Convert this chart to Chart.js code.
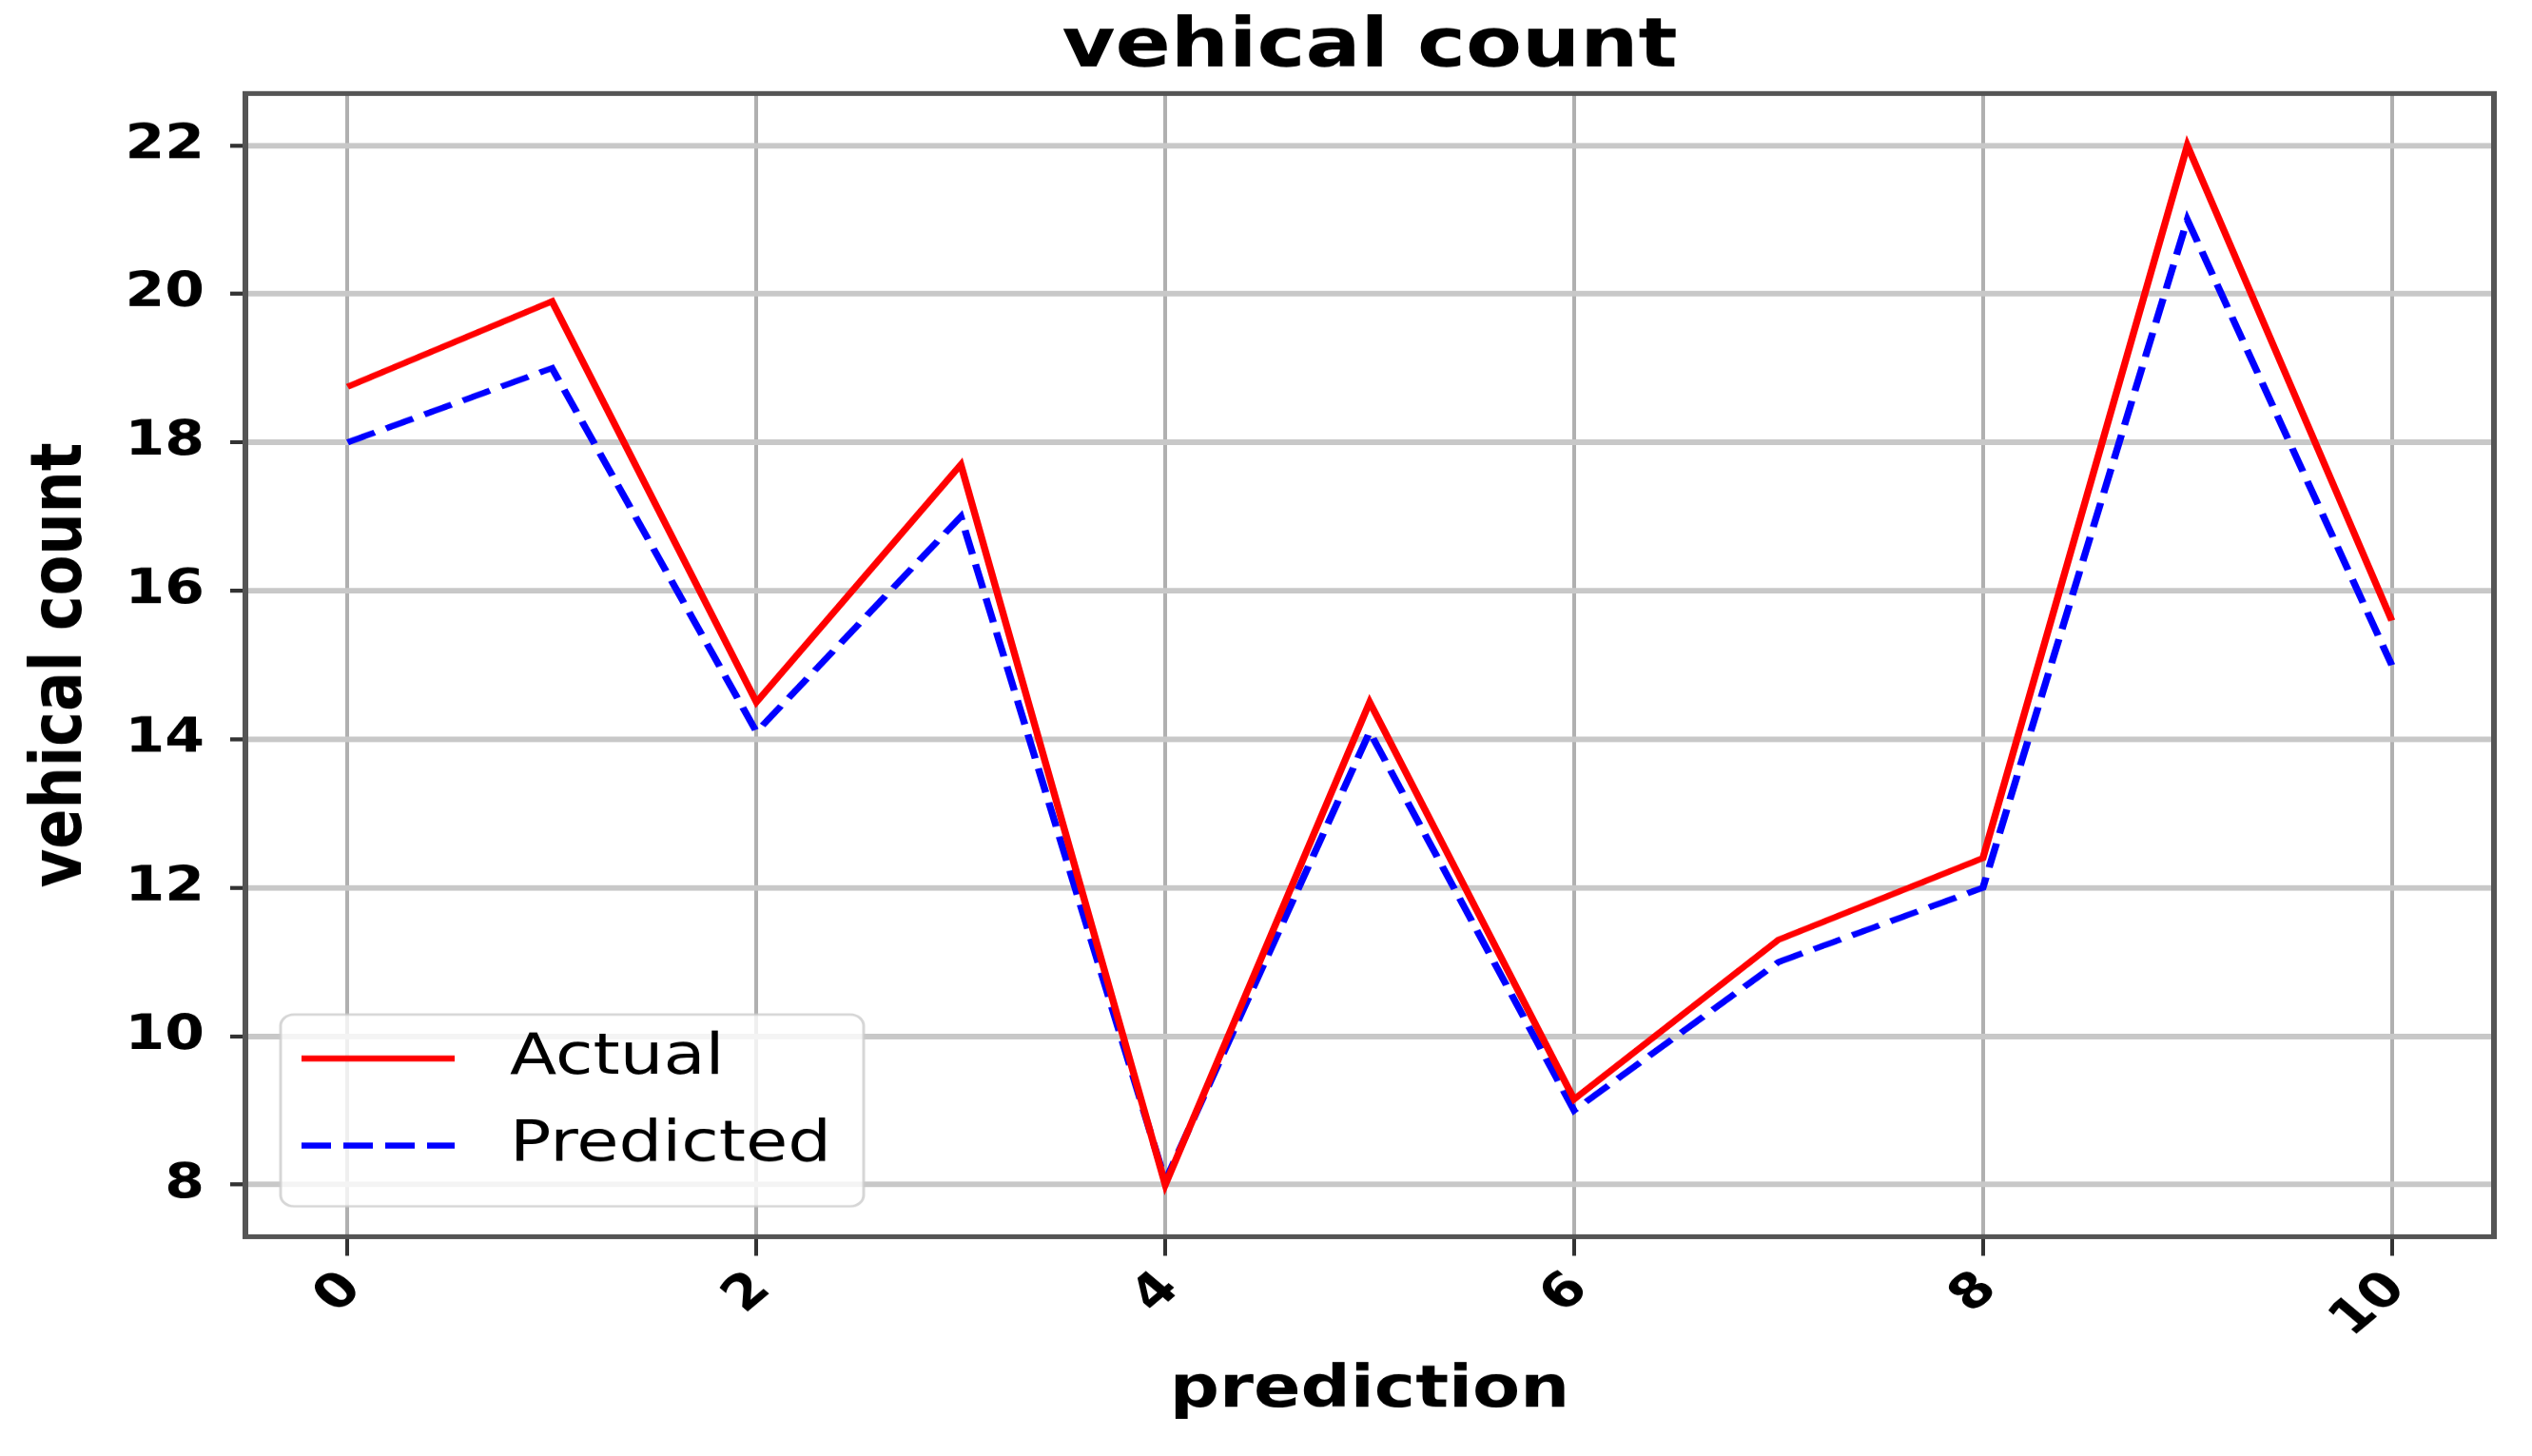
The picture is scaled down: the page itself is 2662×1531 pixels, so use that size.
<!DOCTYPE html>
<html>
<head>
<meta charset="utf-8">
<title>vehical count</title>
<script src="https://cdn.jsdelivr.net/npm/chart.js@4.4.1/dist/chart.umd.min.js"></script>
<style>
  html, body { margin: 0; padding: 0; background: #fff; overflow: hidden; }
  /* the source figure is squashed vertically, so draw it tall and squash it the same way */
  #wrap { width: 2662px; height: 1823px; transform: scaleY(0.84); transform-origin: 0 0; }
  #myChart { display: block; }
</style>
</head>
<body>
<div id="wrap"><canvas id="myChart" width="2662" height="1823"></canvas></div>
<script>
'use strict';

// data
const steps = [0, 1, 2, 3, 4, 5, 6, 7, 8, 9, 10];
const actualCounts = [18.75, 19.9, 14.5, 17.7, 8.0, 14.5, 9.15, 11.3, 12.4, 22.0, 15.6];
const predictedCounts = [18.0, 19.0, 14.1, 17.0, 8.05, 14.1, 9.0, 11.0, 12.0, 21.0, 15.0];
const xTicks = [0, 2, 4, 6, 8, 10];
const yTicks = [8, 10, 12, 14, 16, 18, 20, 22];
const chartTitle = 'vehical count';

// dom
const ctx = document.getElementById('myChart').getContext('2d');

Chart.defaults.font.family = 'DejaVu Sans';
Chart.defaults.color = '#000';

const toPoints = (ys) => steps.map((x, i) => ({ x: x, y: ys[i] }));

// matplotlib style frame, title over the axes and legend box in the lower left corner
const frameAndLegend = {
  id: 'frameAndLegend',
  afterDatasetsDraw(chart) {
    const c = chart.ctx;
    const area = chart.chartArea;

    c.save();
    c.strokeStyle = '#555';
    c.lineWidth = 6;
    c.strokeRect(area.left, area.top, area.right - area.left, area.bottom - area.top);

    // title, centred on the axes like matplotlib does
    c.font = 'bold 86px "DejaVu Sans"';
    c.fillStyle = '#000';
    c.textAlign = 'center';
    c.textBaseline = 'alphabetic';
    c.fillText(chartTitle, (area.left + area.right) / 2, area.top - 34);

    // legend
    const boxLeft = area.left + 37;
    const boxW = 613;
    const boxH = 240;
    const boxTop = area.bottom - 38 - boxH;
    c.beginPath();
    c.roundRect(boxLeft, boxTop, boxW, boxH, 14);
    c.fillStyle = 'rgba(255,255,255,0.8)';
    c.fill();
    c.strokeStyle = 'rgba(204,204,204,0.8)';
    c.lineWidth = 3;
    c.stroke();

    const rows = [boxTop + 55, boxTop + 164];
    c.font = '72px "DejaVu Sans"';
    c.textBaseline = 'middle';
    c.textAlign = 'left';
    chart.data.datasets.forEach((ds, i) => {
      const y = rows[i];
      c.beginPath();
      c.setLineDash(ds.borderDash || []);
      c.strokeStyle = ds.borderColor;
      c.lineWidth = ds.borderWidth;
      c.moveTo(boxLeft + 22, y);
      c.lineTo(boxLeft + 183, y);
      c.stroke();
      c.setLineDash([]);
      c.fillStyle = '#000';
      c.fillText(ds.label, boxLeft + 241, y);
    });
    c.restore();
  }
};

new Chart(ctx, {
  type: 'line',
  data: {
    datasets: [
      {
        label: 'Actual',
        data: toPoints(actualCounts),
        borderColor: '#ff0000',
        borderWidth: 7.5,
        pointRadius: 0,
        tension: 0,
        fill: false
      },
      {
        label: 'Predicted',
        data: toPoints(predictedCounts),
        borderColor: '#0000ff',
        borderWidth: 7.5,
        borderDash: [31, 13],
        pointRadius: 0,
        tension: 0,
        fill: false
      }
    ]
  },
  options: {
    responsive: false,
    animation: false,
    devicePixelRatio: 1,
    layout: {
      padding: { left: 0, right: 40, top: 117, bottom: 0 }
    },
    plugins: {
      legend: { display: false },
      tooltip: { enabled: false },
      title: { display: false }
    },
    scales: {
      x: {
        type: 'linear',
        min: -0.5,
        max: 10.5,
        afterBuildTicks: (scale) => { scale.ticks = xTicks.map(v => ({ value: v })); },
        afterFit: (scale) => { scale.height = 275; },
        ticks: {
          autoSkip: false,
          minRotation: 45,
          maxRotation: 45,
          padding: 7,
          labelOffset: 6,
          font: { size: 60, weight: 'bold' },
          callback: (value) => String(value)
        },
        grid: {
          color: '#b0b0b0',
          lineWidth: 4,
          tickLength: 24,
          tickColor: '#333',
          tickWidth: 4
        },
        border: { display: false },
        title: {
          display: true,
          text: 'prediction',
          font: { size: 73, weight: 'bold' },
          padding: { top: 0, bottom: 37 }
        }
      },
      y: {
        min: 7.3,
        max: 22.7,
        afterBuildTicks: (scale) => { scale.ticks = yTicks.map(v => ({ value: v })); },
        afterFit: (scale) => { scale.width = 258; },
        ticks: {
          padding: 27,
          font: { size: 60, weight: 'bold' },
          callback: (value) => String(value)
        },
        grid: {
          color: '#c8c8c8',
          lineWidth: 7,
          tickLength: 16,
          tickColor: '#333',
          tickWidth: 5
        },
        border: { display: false },
        title: {
          display: true,
          text: 'vehical count',
          font: { size: 74, weight: 'bold' },
          padding: { top: 21, bottom: 0 }
        }
      }
    }
  },
  plugins: [frameAndLegend]
});
</script>
</body>
</html>
